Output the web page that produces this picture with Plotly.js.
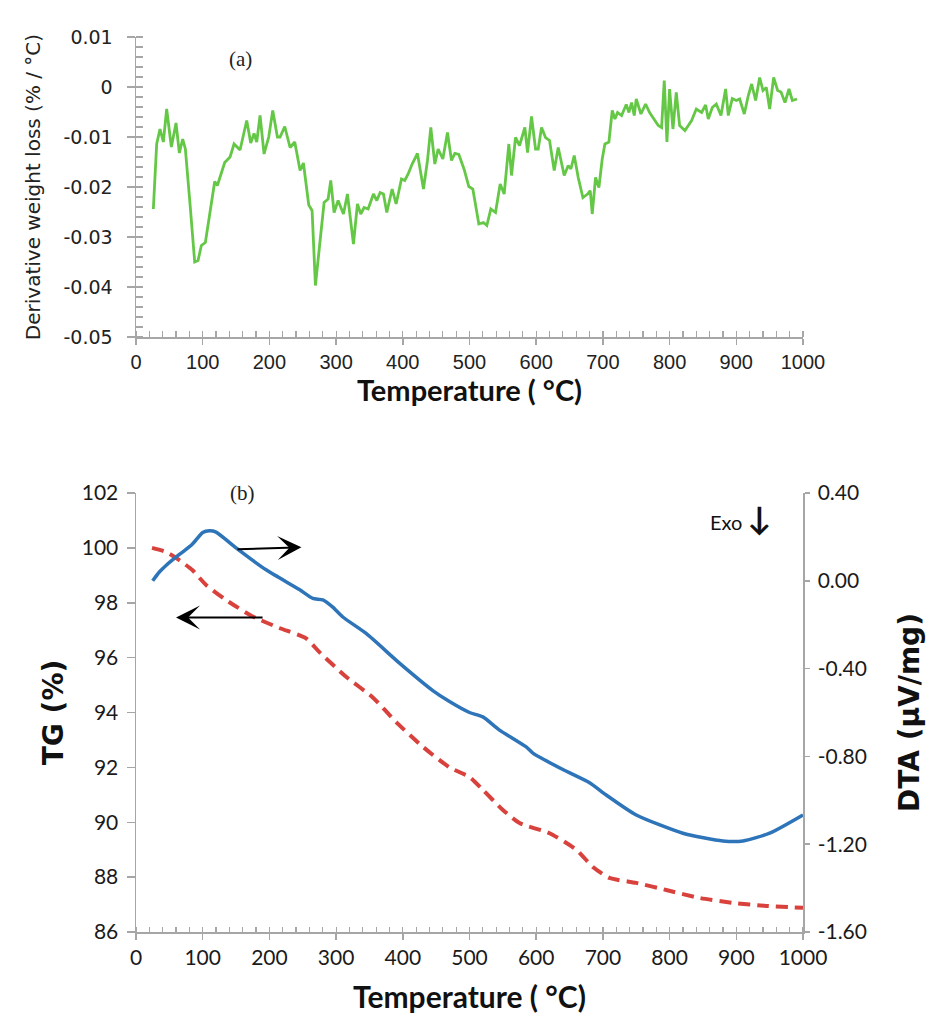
<!DOCTYPE html>
<html>
<head>
<meta charset="utf-8">
<script src="https://cdn.plot.ly/plotly-3.0.1.min.js"></script>
<style>html,body{margin:0;padding:0;background:#fff;}#chart{width:934px;height:1014px;}</style>
</head>
<body>
<div id="chart"></div>
<script>
// ---- (a) derivative weight loss ----
const tempA = [26,31,36,41,46,53,60,65,70,74,81,88,93,98,104,111,118,122,133,141,147,156,166,172,177,181,186,192,199,205,212,216,223,231,238,246,251,259,264,269,274,282,288,292,297,303,311,317,326,332,337,342,348,356,361,366,371,376,384,390,398,403,408,414,422,431,437,442,448,453,460,467,473,478,484,492,499,505,514,521,526,532,539,546,552,559,563,569,575,583,587,593,599,603,608,614,620,627,633,642,648,652,657,663,670,677,681,684,689,694,699,703,709,714,718,722,728,735,739,743,747,750,757,764,770,783,788,792,796,800,805,810,815,823,833,840,848,854,858,864,870,877,884,888,894,900,905,912,918,923,929,935,940,945,950,956,962,967,973,979,984,991];
const dwlA = [-0.0244,-0.0114,-0.0084,-0.011,-0.0044,-0.012,-0.0072,-0.0132,-0.0104,-0.0124,-0.0234,-0.035,-0.0347,-0.0317,-0.0311,-0.0254,-0.0189,-0.0197,-0.0151,-0.014,-0.0114,-0.0126,-0.0067,-0.0112,-0.0093,-0.011,-0.0057,-0.0134,-0.01,-0.0047,-0.01,-0.01,-0.0079,-0.0121,-0.011,-0.0167,-0.0152,-0.0236,-0.0247,-0.0397,-0.0327,-0.0231,-0.0224,-0.0187,-0.0251,-0.0227,-0.0254,-0.0214,-0.0314,-0.0234,-0.0254,-0.0241,-0.0244,-0.0214,-0.0227,-0.0211,-0.0214,-0.0251,-0.0204,-0.0234,-0.0184,-0.0187,-0.0174,-0.0154,-0.0133,-0.0204,-0.0147,-0.0081,-0.0154,-0.0124,-0.0144,-0.0091,-0.0147,-0.0133,-0.0135,-0.0165,-0.0199,-0.0204,-0.0274,-0.0271,-0.0277,-0.0244,-0.0251,-0.0194,-0.0214,-0.0114,-0.0177,-0.0101,-0.0117,-0.0081,-0.0131,-0.0059,-0.0124,-0.0124,-0.0081,-0.0101,-0.0107,-0.0167,-0.0121,-0.0177,-0.0157,-0.0164,-0.0137,-0.0181,-0.0221,-0.0214,-0.0207,-0.0254,-0.0181,-0.0201,-0.0144,-0.0114,-0.011,-0.0047,-0.0064,-0.0051,-0.0057,-0.0035,-0.0051,-0.0031,-0.0057,-0.0024,-0.0054,-0.0034,-0.0051,-0.0077,-0.0081,0.0013,-0.011,-0.0004,-0.0084,-0.0011,-0.0077,-0.0087,-0.0067,-0.0044,-0.0051,-0.0036,-0.0064,-0.0041,-0.0034,-0.0057,-0.0004,-0.0057,-0.0023,-0.0027,-0.0024,-0.0054,-0.0017,0.0006,-0.0027,0.0019,-0.0007,-0.0001,-0.0044,0.0019,-0.0007,-0.001,-0.0031,-0.0004,-0.0027,-0.0024];

// ---- (b) TG and DTA ----
const tempTG = [24,45,65,84,105,135,175,215,255,275,315,355,390,430,470,500,520,550,575,620,660,685,710,750,795,845,895,945,1000];
const tgVals = [100.0,99.85,99.55,99.2,98.65,98.1,97.5,97.08,96.7,96.2,95.3,94.55,93.65,92.75,92.0,91.65,91.18,90.45,89.97,89.6,89.0,88.37,87.97,87.79,87.53,87.24,87.06,86.95,86.88];
const tempDTA = [25,35,45,65,84,100,110,120,150,195,245,265,280,295,310,345,395,445,470,500,520,545,585,595,640,680,705,750,820,880,910,950,1000];
const dtaVals = [0.00,0.04,0.07,0.12,0.165,0.22,0.228,0.222,0.15,0.05,-0.04,-0.08,-0.087,-0.12,-0.165,-0.24,-0.375,-0.5,-0.55,-0.6,-0.62,-0.68,-0.757,-0.785,-0.86,-0.92,-0.976,-1.067,-1.15,-1.185,-1.185,-1.15,-1.067];

// ---- tick labels ----
const xTickVals = [0,100,200,300,400,500,600,700,800,900,1000];
const yTickValsA = [0.01,0,-0.01,-0.02,-0.03,-0.04,-0.05];
const yTickTextA = ['0.01','0','-0.01','-0.02','-0.03','-0.04','-0.05'];
const tgTickVals = [86,88,90,92,94,96,98,100,102];
const dtaTickVals = [0.4,0,-0.4,-0.8,-1.2,-1.6];
const dtaTickText = ['0.40','0.00','-0.40','-0.80','-1.20','-1.60'];

const axisGray = '#a6a6a6';
const W = 934, H = 1014;
const xDom = [136/W, 803/W];

const traces = [
  {x: tempA, y: dwlA, xaxis:'x', yaxis:'y', mode:'lines', line:{color:'#64c846', width:2.8}, hoverinfo:'skip'},
  {x: tempTG, y: tgVals, xaxis:'x2', yaxis:'y2', mode:'lines', line:{color:'#d9423c', width:4, dash:'12px,7px', shape:'spline', smoothing:0.6}, hoverinfo:'skip'},
  {x: tempDTA, y: dtaVals, xaxis:'x2', yaxis:'y3', mode:'lines', line:{color:'#2d74b8', width:3.5, shape:'spline', smoothing:0.6}, hoverinfo:'skip'}
];

const tickFontA = {family:'DejaVu Sans', size:19, color:'#222'};
const tickFontAx = {family:'Liberation Sans Narrow, Liberation Sans, sans-serif', size:20, color:'#222'};
const tickFontB = {family:'Lato, Open Sans, sans-serif', size:21, color:'#1a1a1a'};
const boldTitle = 'DejaVu Sans, sans-serif';

const layout = {
  width: W, height: H,
  margin: {l:0, r:0, t:0, b:0},
  paper_bgcolor:'#fff', plot_bgcolor:'#fff',
  showlegend:false,
  xaxis: {
    domain: xDom, anchor:'y', range:[0,1000], tickvals:xTickVals,
    showgrid:false, zeroline:false, showline:true, linecolor:axisGray, linewidth:1.5,
    ticks:'outside', ticklen:6, tickcolor:axisGray, tickwidth:1.5,
    minor:{dtick:20, ticks:'inside', ticklen:6, tickcolor:axisGray, tickwidth:1.2},
    tickfont: tickFontAx, automargin:false,
    title:{text:'<b>Temperature ( °C)</b>', font:{family:'Lato, sans-serif', size:29, color:'#111'}, standoff:0}
  },
  yaxis: {
    domain:[1-337/H, 1-37/H], anchor:'x', range:[-0.05,0.01],
    tickvals:yTickValsA, ticktext:yTickTextA,
    showgrid:false, zeroline:false, showline:true, linecolor:axisGray, linewidth:1.5,
    ticks:'outside', ticklen:8, tickcolor:axisGray, tickwidth:1.5, ticklabelstandoff:10,
    minor:{dtick:0.002, ticks:'inside', ticklen:7, tickcolor:axisGray, tickwidth:1.2},
    tickfont: tickFontA, automargin:false,
    title:{text:'Derivative weight loss (% / °C)', font:{family:'DejaVu Sans', size:20, color:'#222'}, standoff:17}
  },
  xaxis2: {
    domain: xDom, anchor:'y2', range:[0,1000], tickvals:xTickVals,
    showgrid:false, zeroline:false, showline:true, linecolor:axisGray, linewidth:1.5,
    ticks:'outside', ticklen:6, tickcolor:axisGray, tickwidth:1.5,
    minor:{dtick:20, ticks:'inside', ticklen:5, tickcolor:axisGray, tickwidth:1.2},
    tickfont: tickFontB, automargin:false,
    title:{text:'<b>Temperature ( °C)</b>', font:{family:'Lato, sans-serif', size:30, color:'#111'}, standoff:19}
  },
  yaxis2: {
    domain:[1-932/H, 1-493/H], anchor:'x2', range:[86,102], tickvals:tgTickVals,
    showgrid:false, zeroline:false, showline:true, linecolor:axisGray, linewidth:1.5,
    ticks:'outside', ticklen:8, tickcolor:axisGray, tickwidth:1.5, ticklabelstandoff:4,
    tickfont: tickFontB, automargin:false,
    title:{text:'<b>TG (%)</b>', font:{family:boldTitle, size:28, color:'#111'}, standoff:10}
  },
  yaxis3: {
    overlaying:'y2', side:'right', anchor:'x2', range:[-1.6,0.4],
    tickvals:dtaTickVals, ticktext:dtaTickText,
    showgrid:false, zeroline:false, showline:true, linecolor:axisGray, linewidth:1.5,
    ticks:'outside', ticklen:5, tickcolor:axisGray, tickwidth:1.5, ticklabelstandoff:4,
    tickfont: tickFontB, automargin:false,
    title:{text:'<b>DTA (µV/mg)</b>', font:{family:boldTitle, size:28, color:'#111'}, standoff:33}
  },
  annotations: [
    {xref:'x', yref:'y', x:156, y:0.0056, text:'(a)', showarrow:false,
     font:{family:'Liberation Serif, DejaVu Serif, serif', size:21, color:'#222'}},
    {xref:'x2', yref:'y2', x:159, y:102.0, text:'(b)', showarrow:false,
     font:{family:'Liberation Serif, DejaVu Serif, serif', size:21, color:'#222'}},
    {xref:'x2', yref:'y2', x:907, y:101.1, text:'Exo <span style="font-size:32px"><b>↓</b></span>', showarrow:false,
     font:{family:'Lato, sans-serif', size:20, color:'#111'}},
    {xref:'x2', yref:'y2', x:248, y:100.02, axref:'x2', ayref:'y2', ax:150, ay:99.95, text:'',
     showarrow:true, arrowhead:3, arrowsize:2, arrowwidth:2, arrowcolor:'#000'},
    {xref:'x2', yref:'y2', x:60, y:97.46, axref:'x2', ayref:'y2', ax:192, ay:97.46, text:'',
     showarrow:true, arrowhead:3, arrowsize:2, arrowwidth:2, arrowcolor:'#000'}
  ]
};

Plotly.newPlot('chart', traces, layout, {staticPlot:true, displayModeBar:false});
</script>
</body>
</html>
